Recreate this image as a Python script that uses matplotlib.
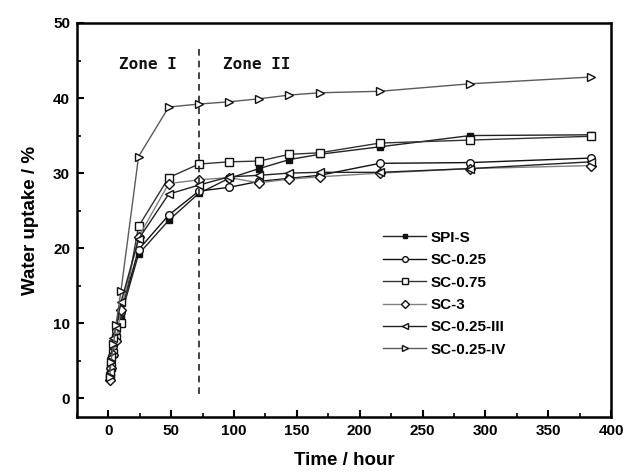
import matplotlib
matplotlib.use("Agg")
import matplotlib.pyplot as plt
from matplotlib.ticker import MultipleLocator

time_h = [1, 2, 4, 6, 10, 24, 48, 72, 96, 120, 144, 168, 216, 288, 384]

spi_s    = [3.0, 4.5, 6.5, 8.5, 11.0, 19.2, 23.7, 27.3, 29.3, 30.6, 31.8, 32.5, 33.5, 35.0, 35.1]
sc_025   = [3.2, 5.0, 7.0, 9.0, 11.5, 19.8, 24.4, 27.6, 28.1, 28.9, 29.3, 29.7, 31.3, 31.4, 32.0]
sc_075   = [2.8, 4.2, 6.0, 8.0, 10.0, 22.9, 29.4, 31.2, 31.5, 31.6, 32.5, 32.7, 34.0, 34.4, 34.9]
sc_3     = [2.4, 4.0, 5.8, 7.6, 11.8, 21.5, 28.6, 29.1, 29.4, 28.7, 29.2, 29.5, 30.0, 30.6, 31.0]
sc_025_3 = [3.5, 5.5, 8.0, 9.5, 12.8, 21.2, 27.2, 28.4, 29.5, 29.7, 30.0, 30.1, 30.1, 30.6, 31.5]
sc_025_4 = [2.8, 4.8, 7.2, 9.8, 14.3, 32.2, 38.8, 39.2, 39.5, 39.9, 40.4, 40.7, 40.9, 41.9, 42.8]

labels = ["SPI-S", "SC-0.25", "SC-0.75", "SC-3", "SC-0.25-III", "SC-0.25-IV"]
series = [spi_s, sc_025, sc_075, sc_3, sc_025_3, sc_025_4]
markers = ["s", "o", "s", "D", "<", ">"]
facecolors = ["#111111", "white", "white", "white", "white", "white"]
colors = ["#222222", "#111111", "#333333", "#808080", "#222222", "#5a5a5a"]
msizes = [4.5, 5.5, 5.5, 5, 5.5, 5.5]

xticks = [0, 50, 100, 150, 200, 250, 300, 350, 400]
yticks = [0, 10, 20, 30, 40, 50]

fig = plt.figure(figsize=(6.27, 4.76), dpi=100)
ax = fig.add_axes([0.1228, 0.124, 0.8517, 0.8277])

for y, lab, m, fc, c, ms in zip(series, labels, markers, facecolors, colors, msizes):
    ax.plot(time_h, y, marker=m, color=c, markerfacecolor=fc, markeredgecolor="#111111",
            markersize=ms, linewidth=1.0, markeredgewidth=1.0, label=lab)

ax.plot([72, 72], [0.5, 46.5], linestyle=(0, (4, 3)), color="#222222", linewidth=1.2)

ax.text(8.8, 44.5, "Zone I", fontsize=11.5, fontweight="bold", family="DejaVu Sans Mono",
        ha="left", va="center", color="#111111")
ax.text(91, 44.5, "Zone II", fontsize=11.5, fontweight="bold", family="DejaVu Sans Mono",
        ha="left", va="center", color="#111111")

ax.set_xlim(-25, 400)
ax.set_ylim(-2.5, 50)
ax.set_xticks(xticks)
ax.set_yticks(yticks)
ax.xaxis.set_minor_locator(MultipleLocator(25))
ax.yaxis.set_minor_locator(MultipleLocator(5))
ax.tick_params(which="major", direction="in", length=5, width=1.5, labelsize=11, pad=5)
ax.tick_params(which="minor", direction="in", length=3, width=1.2)
for lbl in ax.get_xticklabels() + ax.get_yticklabels():
    lbl.set_fontweight("bold")
    lbl.set_family("Liberation Sans")
for s in ax.spines.values():
    s.set_linewidth(1.8)

ax.set_xlabel("Time / hour", fontsize=13.5, fontweight="bold", family="Liberation Sans", labelpad=10)
ax.set_ylabel("Water uptake / %", fontsize=13.5, fontweight="bold", family="Liberation Sans", labelpad=10)

leg = ax.legend(loc="upper left", bbox_to_anchor=(0.562, 0.488), frameon=False,
                prop={"family": "Liberation Sans", "weight": "bold", "size": 11},
                handlelength=2.8, handletextpad=0.3, labelspacing=0.55, borderaxespad=0,
                markerscale=0.75)

fig.savefig("out.png", dpi=100)
